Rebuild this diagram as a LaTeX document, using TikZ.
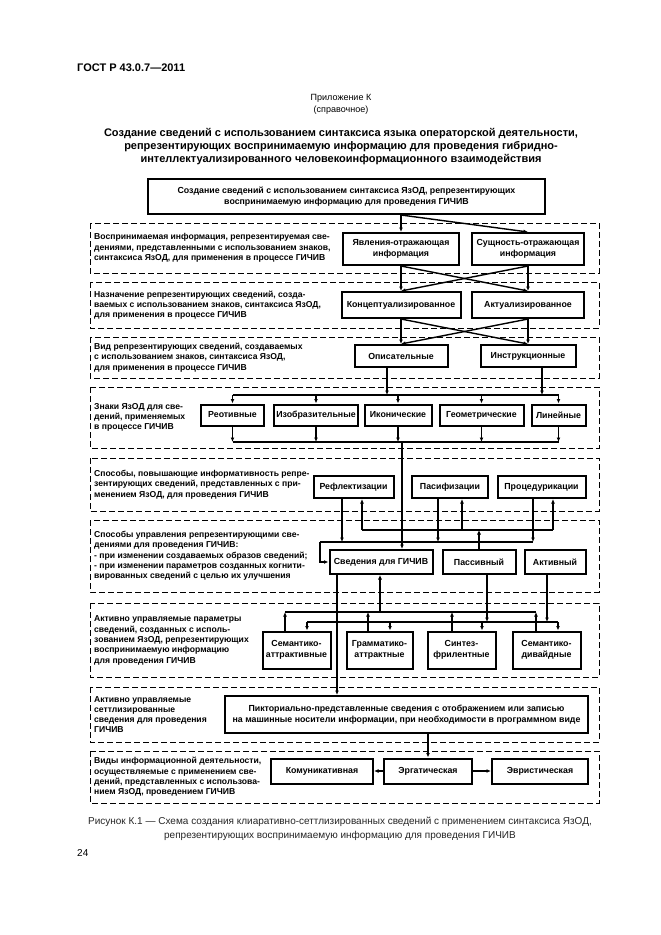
\documentclass[tikz,border=0pt]{standalone}
\usepackage{fontspec}
\setmainfont{Liberation Sans}
\usetikzlibrary{arrows.meta}
\begin{document}
\begin{tikzpicture}[x=1pt,y=-1pt,
  band/.style={draw, dash pattern=on 6pt off 3pt, line width=0.8pt},
  box/.style={draw, line width=2pt, align=center, inner sep=1pt, font=\bfseries\fontsize{8.8}{11.5}\selectfont},
  lbl/.style={anchor=west, align=left, inner sep=0pt, font=\bfseries\fontsize{8.6}{10.3}\selectfont},
  conn/.style={line width=1.4pt},
  arr/.style={conn, -{Latex[length=4.5pt,width=3.8pt]}},
  tarr/.style={line width=2.2pt, -{Latex[length=4.5pt,width=4.2pt]}},
]
\path[fill=white] (0,0) rectangle (661,935);
\useasboundingbox (0,0) rectangle (661,935);

% header
\node[anchor=west, inner sep=0pt, font=\bfseries\fontsize{11}{13}\selectfont] (gost) at (77,68) {ГОСТ Р 43.0.7—2011};
\node[align=center, inner sep=0pt, font=\fontsize{9}{12}\selectfont] (pril) at (341,104) {Приложение К\\(справочное)};
\node[align=center, inner sep=0pt, font=\bfseries\fontsize{11}{13}\selectfont] (title) at (341,147) {Создание сведений с использованием синтаксиса языка операторской деятельности,\\репрезентирующих воспринимаемую информацию для проведения гибридно-\\интеллектуализированного человекоинформационного взаимодействия};

% top box
\node[box, minimum width=397pt, minimum height=35pt] (top) at (346.5,196.5) {Создание сведений с использованием синтаксиса ЯзОД, репрезентирующих\\воспринимаемую информацию для проведения ГИЧИВ};

% bands
\draw[band] (90,223) rectangle (599,273);
\draw[band] (90,282) rectangle (599,328);
\draw[band] (90,337) rectangle (599,378);
\draw[band] (90,387) rectangle (599,448);
\draw[band] (90,458) rectangle (599,511);
\draw[band] (90,520) rectangle (599,592);
\draw[band] (90,603) rectangle (599,677);
\draw[band] (90,687) rectangle (599,742);
\draw[band] (90,751) rectangle (599,803);

% band texts
\node[lbl] (t1) at (94,248) {Воспринимаемая информация, репрезентируемая све-\\дениями, представленными с использованием знаков,\\синтаксиса ЯзОД, для применения в процессе ГИЧИВ};
\node[lbl] (t2) at (94,305) {Назначение репрезентирующих сведений, созда-\\ваемых с использованием знаков, синтаксиса ЯзОД,\\для применения в процессе ГИЧИВ};
\node[lbl] (t3) at (94,357.5) {Вид репрезентирующих сведений, создаваемых\\с использованием знаков, синтаксиса ЯзОД,\\для применения в процессе ГИЧИВ};
\node[lbl] (t4) at (94,417.5) {Знаки ЯзОД для све-\\дений, применяемых\\в процессе ГИЧИВ};
\node[lbl] (t5) at (94,484.5) {Способы, повышающие информативность репре-\\зентирующих сведений, представленных с при-\\менением ЯзОД, для проведения ГИЧИВ};
\node[lbl] (t6) at (94,556) {Способы управления репрезентирующими све-\\дениями для проведения ГИЧИВ:\\- при изменении создаваемых образов сведений;\\- при изменении параметров созданных когнити-\\вированных сведений с целью их улучшения};
\node[lbl] (t7) at (94,640.5) {Активно управляемые параметры\\сведений, созданных с исполь-\\зованием ЯзОД, репрезентирующих\\воспринимаемую информацию\\для проведения ГИЧИВ};
\node[lbl] (t8) at (94,714.5) {Активно управляемые\\сеттлизированные\\сведения для проведения\\ГИЧИВ};
\node[lbl] (t9) at (94,777) {Виды информационной деятельности,\\осуществляемые с применением све-\\дений, представленных с использова-\\нием ЯзОД, проведением ГИЧИВ};

% band 1-3 boxes
\node[box, minimum width=116pt, minimum height=32pt] (yav) at (401,249) {Явления-отражающая\\информация};
\node[box, minimum width=112pt, minimum height=32pt] (sush) at (528,249) {Сущность-отражающая\\информация};
\node[box, minimum width=119pt, minimum height=26pt] (konc) at (401,305) {Концептуализированное};
\node[box, minimum width=112pt, minimum height=26pt] (akt) at (528,305) {Актуализированное};
\node[box, minimum width=93pt, minimum height=22pt] (opis) at (401,356) {Описательные};
\node[box, minimum width=95pt, minimum height=22pt] (instr) at (528,356) {Инструкционные};

% band 4 boxes
\node[box, minimum width=63pt, minimum height=21pt] (reot) at (232.5,415) {Реотивные};
\node[box, minimum width=84pt, minimum height=21pt] (izob) at (316,415) {Изобразительные};
\node[box, minimum width=67pt, minimum height=21pt] (ikon) at (398,415) {Иконические};
\node[box, minimum width=84pt, minimum height=21pt] (geom) at (481.5,415) {Геометрические};
\node[box, minimum width=54pt, minimum height=21pt] (lin) at (558.5,415) {Линейные};

% band 5 boxes
\node[box, minimum width=80pt, minimum height=22pt] (refl) at (353.5,487) {Рефлектизации};
\node[box, minimum width=76pt, minimum height=22pt] (pasif) at (450,487) {Пасифизации};
\node[box, minimum width=88pt, minimum height=22pt] (proc) at (541.5,487) {Процедурикации};

% band 6 boxes
\node[box, minimum width=103pt, minimum height=24pt] (sved) at (381,562) {Сведения для ГИЧИВ};
\node[box, minimum width=73pt, minimum height=24pt] (pass) at (479,562) {Пассивный};
\node[box, minimum width=61pt, minimum height=24pt] (akti) at (555,562) {Активный};

% band 7 boxes
\node[box, minimum width=68pt, minimum height=37pt] (p1) at (296.5,650) {Семантико-\\аттрактивные};
\node[box, minimum width=66pt, minimum height=37pt] (p2) at (379.5,650) {Грамматико-\\аттрактные};
\node[box, minimum width=68pt, minimum height=37pt] (p3) at (461.5,650) {Синтез-\\фрилентные};
\node[box, minimum width=68pt, minimum height=37pt] (p4) at (546.5,650) {Семантико-\\дивайдные};

% band 8 box
\node[box, minimum width=363pt, minimum height=37pt] (big) at (406.5,714.5) {Пикториально-представленные сведения с отображением или записью\\на машинные носители информации, при необходимости в программном виде};

% band 9 boxes
\node[box, minimum width=102pt, minimum height=25pt] (komm) at (322,771) {Комуникативная};
\node[box, minimum width=88pt, minimum height=25pt] (erg) at (428,771) {Эргатическая};
\node[box, minimum width=96pt, minimum height=25pt] (evr) at (540,771) {Эвристическая};

% connectors top
\coordinate (j0) at (yav.north |- top.south);
\draw[arr] (j0) -- (yav.north);
\draw[arr] (j0) -- (sush.north);
\draw[arr] (yav.south) -- (konc.north);
\draw[arr] (sush.south) -- (akt.north);
\draw[arr] (yav.south) -- (akt.north);
\draw[arr] (sush.south) -- (konc.north);
\draw[arr] (konc.south) -- (opis.north);
\draw[arr] (akt.south) -- (instr.north);
\draw[arr] (konc.south) -- (instr.north);
\draw[arr] (akt.south) -- (opis.north);

% band 4 buses
\coordinate (bA1) at (387,395);
\coordinate (bA2) at (542,395);
\draw[arr] (opis.south -| bA1) -- (bA1);
\draw[arr] (instr.south -| bA2) -- (bA2);
\draw[conn] (reot.north |- bA1) -- (lin.north |- bA1);
\foreach \n in {reot,izob,ikon,geom,lin} \draw[arr] (\n.north |- bA1) -- (\n.north);
\coordinate (bB) at (402,442);
\draw[conn] (reot.south |- bB) -- (lin.south |- bB);
\foreach \n in {reot,izob,ikon,geom,lin} \draw[arr] (\n.south) -- (\n.south |- bB);
\draw[arr] (bB) -- (sved.north -| bB);

% band 5/6
\coordinate (cL) at (320,542);
\coordinate (c1) at (342,542);
\coordinate (c2) at (438,542);
\coordinate (c3) at (533,542);
\draw[conn] (cL) -- (c3);
\draw[arr] (refl.south -| c1) -- (c1);
\draw[arr] (pasif.south -| c2) -- (c2);
\draw[arr] (proc.south -| c3) -- (c3);
\draw[arr] (cL) |- (sved.west);
\coordinate (d1) at (362,530);
\coordinate (d2) at (462,530);
\coordinate (d3) at (553,530);
\draw[conn] (d1) -- (d3);
\draw[tarr] (pass.north) -- (pass.north |- d1);
\draw[arr] (d1) -- (refl.south -| d1);
\draw[arr] (d2) -- (pasif.south -| d2);
\draw[arr] (d3) -- (proc.south -| d3);

% band 6/7
\coordinate (a1) at (285,612);
\coordinate (a2) at (368,612);
\coordinate (a3) at (452,612);
\coordinate (a4) at (536,612);
\coordinate (aS) at (380,612);
\draw[conn] (a1) -- (a4);
\draw[arr] (p1.north -| a1) -- (a1);
\draw[arr] (p2.north -| a2) -- (a2);
\draw[arr] (p3.north -| a3) -- (a3);
\draw[arr] (p4.north -| a4) -- (a4);
\draw[tarr] (aS) -- (sved.south -| aS);
\coordinate (b1) at (307,622);
\coordinate (b2) at (390,622);
\coordinate (b3) at (482,622);
\coordinate (b4) at (558,622);
\coordinate (bp) at (487,622);
\coordinate (ba) at (547,622);
\draw[conn] (b1) -- (b4);
\draw[arr] (b1) -- (p1.north -| b1);
\draw[arr] (b2) -- (p2.north -| b2);
\draw[arr] (b3) -- (p3.north -| b3);
\draw[arr] (b4) -- (p4.north -| b4);
\draw[arr] (pass.south -| bp) -- (bp);
\draw[arr] (akti.south -| ba) -- (ba);

% to band 8, 9
\coordinate (sx) at (337,700);
\draw[arr] (sved.south -| sx) -- (big.north -| sx);
\draw[arr] (big.south -| erg.north) -- (erg.north);
\draw[arr] (erg.west) -- (komm.east);
\draw[arr] (erg.east) -- (evr.west);

% caption
\node[align=center, inner sep=0pt, font=\fontsize{10}{14}\selectfont, text=black!85] (cap) at (340,829) {Рисунок К.1 — Схема создания клиаративно-сеттлизированных сведений с применением синтаксиса ЯзОД,\\репрезентирующих воспринимаемую информацию для проведения ГИЧИВ};
\node[anchor=west, inner sep=0pt, font=\fontsize{10}{12}\selectfont] (page) at (77,853) {24};
\end{tikzpicture}
\end{document}
